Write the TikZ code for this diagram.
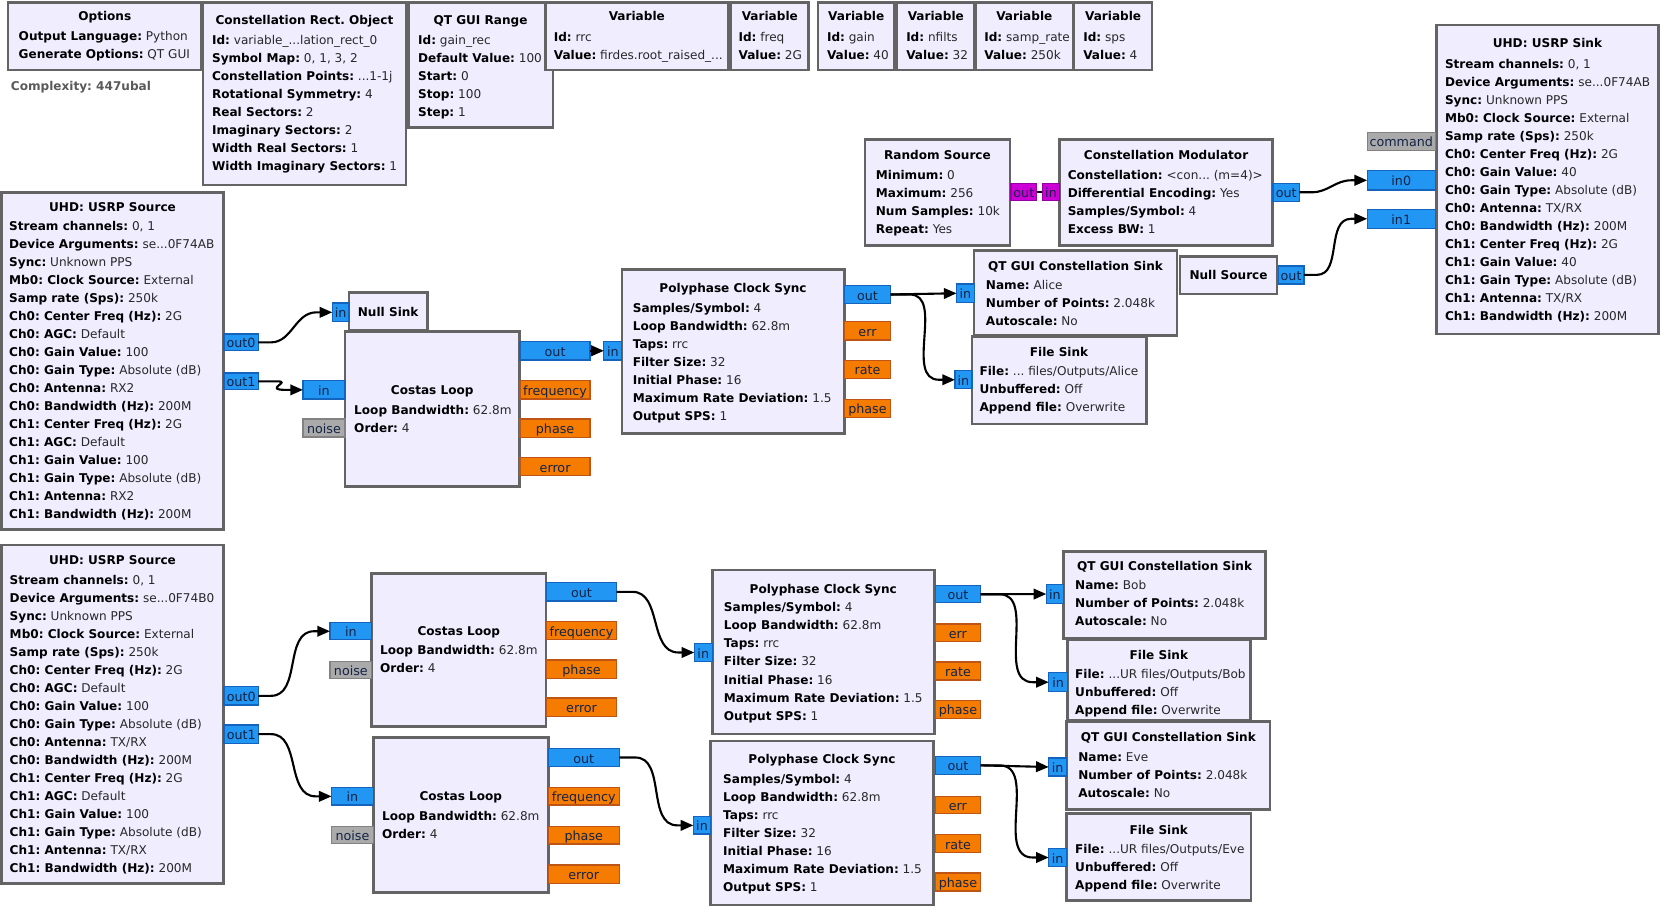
\documentclass[tikz,border=0pt]{standalone}
\usepackage{fontspec}
\setmainfont{DejaVu Sans}
\usetikzlibrary{arrows.meta,calc}
\frenchspacing
\definecolor{bfill}{RGB}{240,237,255}
\definecolor{bdraw}{RGB}{100,100,100}
\definecolor{pblue}{RGB}{33,150,243}
\definecolor{pbluedk}{RGB}{20,100,190}
\definecolor{porng}{RGB}{245,124,0}
\definecolor{porngdk}{RGB}{190,85,20}
\definecolor{pgray}{RGB}{170,170,170}
\definecolor{pgraydk}{RGB}{130,130,130}
\definecolor{pmag}{RGB}{204,0,214}
\definecolor{pmagdk}{RGB}{150,0,160}
\definecolor{ptxt}{RGB}{20,35,70}
\definecolor{valc}{RGB}{40,40,40}
\definecolor{cmplx}{RGB}{90,90,90}
\newcommand\kv[2]{\hbox{\textbf{#1:} \textcolor{valc}{#2}}}
\newcommand\gblk[7]{\node[blk, minimum width={#4-#2}, minimum height={#5-#3}] (#1) at ({(#2+#4)/2},{(#3+#5)/2}) {};
  \node[ttl] (#1-t) at ({(#2+#4)/2},{#7+4}) {#6};}
\newcommand\gbody[4]{\node[bodytxt] (#1-b) at (#2,{#3+4}) {\vtop{\baselineskip=17pt #4}};}
\newcommand\gport[7]{\node[#6, minimum width={#4-#2}, minimum height={#5-#3}] (#1) at ({(#2+#4)/2},{(#3+#5)/2}) {#7};}
\newcommand\wire[3][12]{\draw[wire] (#2.east) -- ++(#1,0) to[out=0,in=180] ($(#3.west)+(-15,0)$) -- (#3.west);}
\newcommand\swire[2]{\draw[wire] (#1.east) -- (#2.west);}
\tikzset{
 blk/.style={draw=bdraw, line width=2.5pt, fill=bfill, inner sep=0pt, outer sep=0pt},
 ttl/.style={anchor=base, inner sep=0pt, font=\fontsize{11.4}{17}\selectfont\bfseries, text=black},
 bodytxt/.style={anchor=base west, inner sep=0pt, font=\fontsize{11.4}{17}\selectfont, text=black},
 port/.style={line width=1.2pt, inner sep=0pt, outer sep=0pt, font=\fontsize{12}{13}\selectfont, text=ptxt, text height=10.5pt, text depth=0pt},
 pb/.style={port, draw=pbluedk, fill=pblue},
 po/.style={port, draw=porngdk, fill=porng},
 pg/.style={port, draw=pgraydk, fill=pgray},
 pm/.style={port, draw=pmagdk, fill=pmag},
 wire/.style={draw=black, line width=2pt, -{Triangle[length=12pt,width=10pt]}},
}
\begin{document}
\begin{tikzpicture}[x=1pt,y=-1pt]
\useasboundingbox[fill=white] (0,0) rectangle (1568,856);
% ---------- top row
\gblk{opt}{7.4}{2.5}{190.5}{66}{Options}{15.7}
\gbody{opt}{17.5}{34.6}{\kv{Output Language}{Python}\kv{Generate Options}{QT GUI}}
\node[anchor=base west, inner sep=0pt, font=\fontsize{11.4}{17}\selectfont\bfseries, text=cmplx] (cx) at (10.1,85.2) {Complexity: 447ubal};
\gblk{crect}{191.5}{2.5}{383.3}{174.6}{Constellation Rect. Object}{19.5}
\gbody{crect}{200}{37.8}{\kv{Id}{variable\_...lation\_rect\_0}\kv{Symbol Map}{0, 1, 3, 2}\kv{Constellation Points}{...1-1j}\kv{Rotational Symmetry}{4}\kv{Real Sectors}{2}\kv{Imaginary Sectors}{2}\kv{Width Real Sectors}{1}\kv{Width Imaginary Sectors}{1}}
\gblk{range}{385.4}{2.5}{521.9}{120.5}{QT GUI Range}{19.5}
\gbody{range}{394.5}{37.8}{\kv{Id}{gain\_rec}\kv{Default Value}{100}\kv{Start}{0}\kv{Stop}{100}\kv{Step}{1}}
\gblk{vrrc}{514.9}{2.5}{687.4}{66}{Variable}{15.7}
\gbody{vrrc}{522.6}{35.2}{\kv{Id}{rrc}\kv{Value}{firdes.root\_raised\_...}}
\gblk{vfreq}{690}{2.5}{763.4}{66}{Variable}{15.7}
\gbody{vfreq}{697}{35.2}{\kv{Id}{freq}\kv{Value}{2G}}
\gblk{vgain}{772.1}{2.5}{844.5}{66}{Variable}{15.7}
\gbody{vgain}{780.5}{35.2}{\kv{Id}{gain}\kv{Value}{40}}
\gblk{vnf}{846.8}{2.5}{920}{66}{Variable}{15.7}
\gbody{vnf}{855.3}{35.2}{\kv{Id}{nfilts}\kv{Value}{32}}
\gblk{vsr}{921}{2.5}{1012.9}{66}{Variable}{15.7}
\gbody{vsr}{929}{35.2}{\kv{Id}{samp\_rate}\kv{Value}{250k}}
\gblk{vsps}{1014}{2.5}{1087.6}{66}{Variable}{15.7}
\gbody{vsps}{1022.4}{35.2}{\kv{Id}{sps}\kv{Value}{4}}
% ---------- transmitter
\gblk{sink}{1356}{23.6}{1565.6}{315.3}{UHD: USRP Sink}{40.9}
\gbody{sink}{1363.9}{60.4}{\kv{Stream channels}{0, 1}\kv{Device Arguments}{se...0F74AB}\kv{Sync}{Unknown PPS}\kv{Mb0: Clock Source}{External}\kv{Samp rate (Sps)}{250k}\kv{Ch0: Center Freq (Hz)}{2G}\kv{Ch0: Gain Value}{40}\kv{Ch0: Gain Type}{Absolute (dB)}\kv{Ch0: Antenna}{TX/RX}\kv{Ch0: Bandwidth (Hz)}{200M}\kv{Ch1: Center Freq (Hz)}{2G}\kv{Ch1: Gain Value}{40}\kv{Ch1: Gain Type}{Absolute (dB)}\kv{Ch1: Antenna}{TX/RX}\kv{Ch1: Bandwidth (Hz)}{200M}}
\gblk{rsrc}{816.6}{131.5}{953.4}{232}{Random Source}{146.3}
\gbody{rsrc}{826.6}{165.2}{\kv{Minimum}{0}\kv{Maximum}{256}\kv{Num Samples}{10k}\kv{Repeat}{Yes}}
\gblk{cmod}{1000.3}{131.5}{1201.3}{232}{Constellation Modulator}{146.3}
\gbody{cmod}{1007.8}{165.2}{\kv{Constellation}{<con... (m=4)>}\kv{Differential Encoding}{Yes}\kv{Samples/Symbol}{4}\kv{Excess BW}{1}}
\gblk{nsrc}{1114}{242}{1205.5}{277.5}{Null Source}{260}
% ---------- receiver 1 (Alice)
\gblk{usrc1}{1.6}{181.9}{210.8}{500}{UHD: USRP Source}{195.7}
\gbody{usrc1}{8.5}{213.4}{\kv{Stream channels}{0, 1}\kv{Device Arguments}{se...0F74AB}\kv{Sync}{Unknown PPS}\kv{Mb0: Clock Source}{External}\kv{Samp rate (Sps)}{250k}\kv{Ch0: Center Freq (Hz)}{2G}\kv{Ch0: AGC}{Default}\kv{Ch0: Gain Value}{100}\kv{Ch0: Gain Type}{Absolute (dB)}\kv{Ch0: Antenna}{RX2}\kv{Ch0: Bandwidth (Hz)}{200M}\kv{Ch1: Center Freq (Hz)}{2G}\kv{Ch1: AGC}{Default}\kv{Ch1: Gain Value}{100}\kv{Ch1: Gain Type}{Absolute (dB)}\kv{Ch1: Antenna}{RX2}\kv{Ch1: Bandwidth (Hz)}{200M}}
\gblk{nsink}{329.5}{276}{403.4}{312}{Null Sink}{295}
\gblk{cos1}{325.7}{313}{490.3}{459.4}{Costas Loop}{368.8}
\gbody{cos1}{334.2}{387}{\kv{Loop Bandwidth}{62.8m}\kv{Order}{4}}
\gblk{pcs1}{587}{254.3}{797}{409}{Polyphase Clock Sync}{272}
\gbody{pcs1}{597.2}{291}{\kv{Samples/Symbol}{4}\kv{Loop Bandwidth}{62.8m}\kv{Taps}{rrc}\kv{Filter Size}{32}\kv{Initial Phase}{16}\kv{Maximum Rate Deviation}{1.5}\kv{Output SPS}{1}}
\gblk{qta}{919.6}{236.6}{1111}{317}{QT GUI Constellation Sink}{251}
\gbody{qta}{930.5}{269.4}{\kv{Name}{Alice}\kv{Number of Points}{2.048k}\kv{Autoscale}{No}}
\gblk{fsa}{917.5}{317.8}{1082}{400.3}{File Sink}{333}
\gbody{fsa}{924.5}{350.9}{\kv{File}{... files/Outputs/Alice}\kv{Unbuffered}{Off}\kv{Append file}{Overwrite}}
% ---------- receiver 2 (Bob, Eve)
\gblk{usrc2}{1.6}{514.5}{210.8}{833.8}{UHD: USRP Source}{529.3}
\gbody{usrc2}{9}{547.5}{\kv{Stream channels}{0, 1}\kv{Device Arguments}{se...0F74B0}\kv{Sync}{Unknown PPS}\kv{Mb0: Clock Source}{External}\kv{Samp rate (Sps)}{250k}\kv{Ch0: Center Freq (Hz)}{2G}\kv{Ch0: AGC}{Default}\kv{Ch0: Gain Value}{100}\kv{Ch0: Gain Type}{Absolute (dB)}\kv{Ch0: Antenna}{TX/RX}\kv{Ch0: Bandwidth (Hz)}{200M}\kv{Ch1: Center Freq (Hz)}{2G}\kv{Ch1: AGC}{Default}\kv{Ch1: Gain Value}{100}\kv{Ch1: Gain Type}{Absolute (dB)}\kv{Ch1: Antenna}{TX/RX}\kv{Ch1: Bandwidth (Hz)}{200M}}
\gblk{cos2}{350.9}{541.2}{515.4}{686}{Costas Loop}{595.7}
\gbody{cos2}{358.7}{614.2}{\kv{Loop Bandwidth}{62.8m}\kv{Order}{4}}
\gblk{cos3}{352.4}{696.3}{517.6}{842.6}{Costas Loop}{752}
\gbody{cos3}{360.5}{770.3}{\kv{Loop Bandwidth}{62.8m}\kv{Order}{4}}
\gblk{pcs2}{672.4}{538}{881.9}{693}{Polyphase Clock Sync}{556}
\gbody{pcs2}{683.2}{573.7}{\kv{Samples/Symbol}{4}\kv{Loop Bandwidth}{62.8m}\kv{Taps}{rrc}\kv{Filter Size}{32}\kv{Initial Phase}{16}\kv{Maximum Rate Deviation}{1.5}\kv{Output SPS}{1}}
\gblk{pcs3}{670.9}{699.5}{881}{854.3}{Polyphase Clock Sync}{716.5}
\gbody{pcs3}{682.5}{735.7}{\kv{Samples/Symbol}{4}\kv{Loop Bandwidth}{62.8m}\kv{Taps}{rrc}\kv{Filter Size}{32}\kv{Initial Phase}{16}\kv{Maximum Rate Deviation}{1.5}\kv{Output SPS}{1}}
\gblk{qtb}{1004}{520.8}{1194.7}{602.6}{QT GUI Constellation Sink}{535}
\gbody{qtb}{1014.8}{552.9}{\kv{Name}{Bob}\kv{Number of Points}{2.048k}\kv{Autoscale}{No}}
\gblk{fsb}{1007.6}{604}{1180.3}{679.7}{File Sink}{618.3}
\gbody{fsb}{1014.8}{636.3}{\kv{File}{...UR files/Outputs/Bob}\kv{Unbuffered}{Off}\kv{Append file}{Overwrite}}
\gblk{qte}{1006.8}{681}{1199}{764}{QT GUI Constellation Sink}{696}
\gbody{qte}{1017.7}{715}{\kv{Name}{Eve}\kv{Number of Points}{2.048k}\kv{Autoscale}{No}}
\gblk{fse}{1006.8}{767.8}{1181}{850.2}{File Sink}{783.5}
\gbody{fse}{1014.8}{801.5}{\kv{File}{...UR files/Outputs/Eve}\kv{Unbuffered}{Off}\kv{Append file}{Overwrite}}
% ---------- ports
\gport{u1o0}{211.5}{315.4}{243.7}{331}{pb}{out0}
\gport{u1o1}{211.5}{352}{243.7}{368}{pb}{out1}
\gport{nsin}{313.7}{286}{329.5}{303.7}{pb}{in}
\gport{c1in}{286}{359.4}{325.7}{376.7}{pb}{in}
\gport{c1no}{286}{395.6}{325.7}{412.5}{pg}{noise}
\gport{c1out}{491}{322.5}{557}{339.8}{pb}{out}
\gport{c1fr}{491}{359.4}{557}{376.7}{po}{frequency}
\gport{c1ph}{491}{395.5}{557}{412.8}{po}{phase}
\gport{c1er}{491}{431.7}{557}{449}{po}{error}
\gport{p1in}{570}{322.5}{587}{339.8}{pb}{in}
\gport{p1out}{797}{269.7}{840.8}{286.3}{pb}{out}
\gport{p1err}{797}{303.7}{840.8}{321}{po}{err}
\gport{p1rate}{797}{340.5}{840.8}{357}{po}{rate}
\gport{p1ph}{797}{377}{840.8}{394}{po}{phase}
\gport{qain}{903}{268}{919.6}{285.7}{pb}{in}
\gport{fsain}{901.5}{350}{917.5}{367}{pb}{in}
\gport{rsout}{954.4}{173}{978.6}{189.5}{pm}{out}
\gport{cmin}{984}{173}{1000.3}{189.5}{pm}{in}
\gport{cmout}{1201.8}{173}{1226.6}{190}{pb}{out}
\gport{nsout}{1206.6}{251}{1231}{268}{pb}{out}
\gport{skcmd}{1290.6}{125}{1355}{142}{pg}{command}
\gport{skin0}{1290.6}{161}{1355}{179.4}{pb}{in0}
\gport{skin1}{1290.6}{197.6}{1355}{215.5}{pb}{in1}
\gport{u2o0}{211.5}{648.2}{243.9}{665.5}{pb}{out0}
\gport{u2o1}{211.5}{684.4}{243.9}{701.7}{pb}{out1}
\gport{c2in}{311.5}{587.8}{350.9}{604}{pb}{in}
\gport{c2no}{311.5}{624.6}{350.9}{640.4}{pg}{noise}
\gport{c2out}{516}{550}{582}{567.4}{pb}{out}
\gport{c2fr}{516}{586.8}{582}{604}{po}{frequency}
\gport{c2ph}{516}{623}{582}{640.4}{po}{phase}
\gport{c2er}{516}{659}{582}{676.5}{po}{error}
\gport{c3in}{313}{743.5}{352.4}{760}{pb}{in}
\gport{c3no}{313}{780}{352.4}{796}{pg}{noise}
\gport{c3out}{517.6}{706.4}{584.6}{723.7}{pb}{out}
\gport{c3fr}{517.6}{743.5}{584.6}{760}{po}{frequency}
\gport{c3ph}{517.6}{780.4}{584.6}{796.7}{po}{phase}
\gport{c3er}{517.6}{816.5}{584.6}{833.8}{po}{error}
\gport{p2in}{655.4}{607.3}{672.4}{624.6}{pb}{in}
\gport{p2out}{883}{553}{925.6}{569}{pb}{out}
\gport{p2err}{883}{589}{925.6}{605.7}{po}{err}
\gport{p2rate}{883}{625}{925.6}{642}{po}{rate}
\gport{p2ph}{883}{661.4}{925.6}{678}{po}{phase}
\gport{p3in}{654.5}{771}{670.9}{787.3}{pb}{in}
\gport{p3out}{883}{714}{925.6}{731}{pb}{out}
\gport{p3err}{883}{752}{925.6}{768}{po}{err}
\gport{p3rate}{883}{788}{925.6}{804.6}{po}{rate}
\gport{p3ph}{883}{824}{925.6}{841}{po}{phase}
\gport{qbin}{987.7}{552}{1004}{569.5}{pb}{in}
\gport{fsbin}{990}{635}{1007.6}{653}{pb}{in}
\gport{qein}{990}{715.6}{1006.8}{732.5}{pb}{in}
\gport{fsein}{990}{801}{1006.8}{818}{pb}{in}
% ---------- connections
\wire{u1o0}{nsin}
\draw[wire] (u1o1.east) -- ++(18,0) .. controls ($(u1o1.east)+(32,0)$) and ($(c1in.west)+(-38,0)$) .. ($(c1in.west)+(-16,0)$) -- (c1in.west);
\swire{c1out}{p1in}
\swire{p1out}{qain}
\wire[18]{p1out}{fsain}
\draw[line width=2pt] (rsout.east) -- (cmin.west);
\wire{cmout}{skin0}
\wire{nsout}{skin1}
\wire{u2o0}{c2in}
\wire{u2o1}{c3in}
\wire[15]{c2out}{p2in}
\wire[15]{c3out}{p3in}
\swire{p2out}{qbin}
\wire[18]{p2out}{fsbin}
\swire{p3out}{qein}
\wire[18]{p3out}{fsein}
\end{tikzpicture}
\end{document}
